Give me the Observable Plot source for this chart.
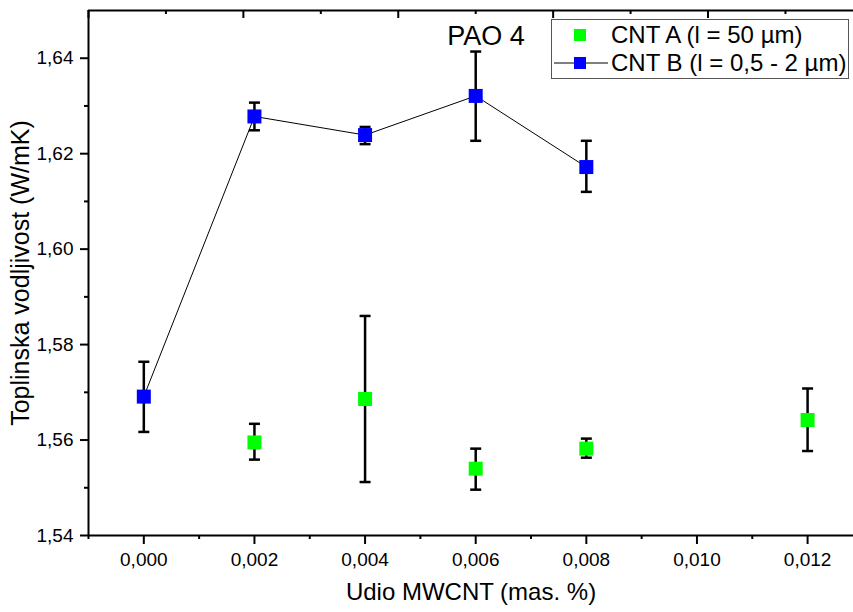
<!DOCTYPE html>
<html>
<head>
<meta charset="utf-8">
<script src="https://cdn.jsdelivr.net/npm/d3@7"></script>
<script src="https://cdn.jsdelivr.net/npm/@observablehq/plot@0.6"></script>
<style>
  html, body { margin: 0; padding: 0; background: #fff; }
  #wrap { position: relative; width: 853px; height: 612px; font-family: "Liberation Sans", Arial, sans-serif; }
  #legend { position: absolute; left: 551px; top: 19px; width: 298px; height: 60px; border: 1px solid #555; background: #fff; box-sizing: border-box; }
  .row { position: absolute; left: 0; height: 28px; display: flex; align-items: center; font-size: 24px; color: #000; white-space: nowrap; }
  .row svg { display: block; }
</style>
</head>
<body>
<div id="wrap"></div>
<script>
// ---- data ----
const xA = [0.002, 0.004, 0.006, 0.008, 0.012];
const yA = [1.5595, 1.5686, 1.5540, 1.5582, 1.5642];
const loA = [1.5559, 1.5512, 1.5496, 1.5563, 1.5577];
const hiA = [1.5634, 1.5860, 1.5582, 1.5603, 1.5708];

const xB = [0.000, 0.002, 0.004, 0.006, 0.008];
const yB = [1.5691, 1.6278, 1.6239, 1.6321, 1.6172];
const loB = [1.5617, 1.6249, 1.6220, 1.6227, 1.6120];
const hiB = [1.5764, 1.6307, 1.6256, 1.6414, 1.6227];

const seriesNames = ["CNT A (l = 50 µm)", "CNT B (l = 0,5 - 2 µm)"];
const seriesColors = ["#00ff00", "#0000ff"];
const title = "PAO 4";
const xLabel = "Udio MWCNT (mas. %)";
const yLabel = "Toplinska vodljivost (W/mK)";

const xDomain = [-0.001, 0.01283];
const yDomain = [1.54, 1.65];
const xMajor = [0.000, 0.002, 0.004, 0.006, 0.008, 0.010, 0.012];
const xMinor = [-0.001, 0.001, 0.003, 0.005, 0.007, 0.009, 0.011];
const yMajor = [1.54, 1.56, 1.58, 1.60, 1.62, 1.64];
const yMinor = [1.55, 1.57, 1.59, 1.61, 1.63];
const topMajor = [-0.001, 0.0018, 0.0046, 0.0074, 0.0102];
const topMinor = [0.0004, 0.0032, 0.0060, 0.0088, 0.0116];

// ---- tables ----
const A = xA.map((x, i) => ({x, y: yA[i], lo: loA[i], hi: hiA[i]}));
const B = xB.map((x, i) => ({x, y: yB[i], lo: loB[i], hi: hiB[i]}));
const all = A.concat(B);

const W = 853, H = 612, mL = 88, mR = 0, mT = 10, mB = 77;
const innerH = H - mT - mB;

const comma = f => v => d3.format(f)(v).replace(".", ",");
const blank = () => "";
const capSymbol = { draw(ctx) { ctx.moveTo(-5.5, 0); ctx.lineTo(5.5, 0); } };

const chart = Plot.plot({
  width: W,
  height: H,
  marginLeft: mL,
  marginRight: mR,
  marginTop: mT,
  marginBottom: mB,
  style: { fontFamily: "'Liberation Sans', Arial, sans-serif", background: "white", overflow: "visible" },
  x: { domain: xDomain, label: null },
  y: { domain: yDomain, label: null },
  marks: [
    // frame lines
    Plot.ruleX([xDomain[0]], { stroke: "black", strokeWidth: 2 }),
    Plot.ruleY([yDomain[0]], { stroke: "black", strokeWidth: 2 }),
    Plot.ruleY([yDomain[1]], { stroke: "black", strokeWidth: 2 }),
    // axes
    Plot.axisY(yMajor, { tickSize: 8, tickPadding: 7, tickFormat: comma(".2f"), fontSize: 19, strokeWidth: 2, label: null }),
    Plot.axisY(yMinor, { tickSize: 4, tickFormat: blank, strokeWidth: 2, label: null }),
    Plot.axisX(xMajor, { tickSize: 9, tickPadding: 8, tickFormat: comma(".3f"), fontSize: 19, strokeWidth: 2, label: null }),
    Plot.axisX(xMinor, { tickSize: 4, tickFormat: blank, strokeWidth: 2, label: null }),
    // inward ticks on the top edge
    Plot.ruleX(topMajor, { x: d => d, stroke: "black", strokeWidth: 2, insetBottom: innerH - 8 }),
    Plot.ruleX(topMinor, { x: d => d, stroke: "black", strokeWidth: 2, insetBottom: innerH - 4 }),
    // axis labels and title
    Plot.text([xLabel], { frameAnchor: "bottom", dy: 64, fontSize: 24, fill: "black" }),
    Plot.text([yLabel], { frameAnchor: "left", textAnchor: "middle", dx: -68, rotate: -90, fontSize: 25, fill: "black" }),
    Plot.text([title], { frameAnchor: "top", dx: 15, dy: 15, fontSize: 27, fill: "black" }),
    // CNT B line
    Plot.line(B, { x: "x", y: "y", stroke: "black", strokeWidth: 1 }),
    // error bars
    Plot.ruleX(all, { x: "x", y1: "lo", y2: "hi", stroke: "black", strokeWidth: 2.5 }),
    Plot.dot(all, { x: "x", y: "hi", symbol: capSymbol, stroke: "black", strokeWidth: 2.5, r: 5 }),
    Plot.dot(all, { x: "x", y: "lo", symbol: capSymbol, stroke: "black", strokeWidth: 2.5, r: 5 }),
    // squares
    Plot.dot(A, { x: "x", y: "y", symbol: "square", r: 7.9, fill: seriesColors[0], stroke: "none" }),
    Plot.dot(B, { x: "x", y: "y", symbol: "square", r: 7.9, fill: seriesColors[1], stroke: "none" })
  ]
});

const wrap = document.getElementById("wrap");
wrap.appendChild(chart);

// legend
const legend = document.createElement("div");
legend.id = "legend";
seriesNames.forEach((name, i) => {
  const row = document.createElement("div");
  row.className = "row";
  row.style.top = (i === 0 ? 1 : 29) + "px";
  const sw = d3.create("svg").attr("width", 58).attr("height", 28);
  if (i === 1) {
    sw.append("line").attr("x1", 2).attr("x2", 56).attr("y1", 14).attr("y2", 14).attr("stroke", "black").attr("stroke-width", 1);
  }
  sw.append("rect").attr("x", 22).attr("y", 8).attr("width", 12).attr("height", 12).attr("fill", seriesColors[i]);
  row.appendChild(sw.node());
  const t = document.createElement("span");
  t.textContent = name;
  t.style.marginLeft = "1px";
  row.appendChild(t);
  legend.appendChild(row);
});
wrap.appendChild(legend);
</script>
</body>
</html>
